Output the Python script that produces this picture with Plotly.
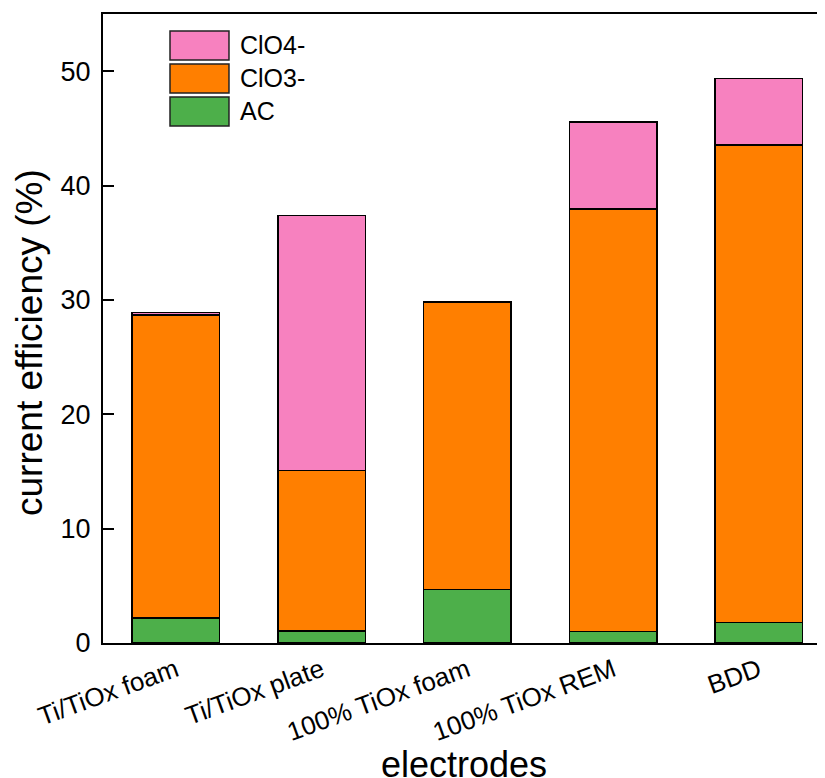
import plotly.graph_objects as go

electrodes = ["Ti/TiOx foam", "Ti/TiOx plate", "100% TiOx foam", "100% TiOx REM", "BDD"]
ac = [2.2, 1.05, 4.7, 1.0, 1.8]
clo3 = [26.5, 14.05, 25.1, 36.95, 41.75]
clo4 = [0.2, 22.3, 0.0, 7.6, 5.8]

series = [("AC", ac, "#4DAF4A"), ("ClO3-", clo3, "#FF7F00"), ("ClO4-", clo4, "#F781BF")]

FONT = "Arial, Liberation Sans, sans-serif"

fig = go.Figure()
for name, vals, col in series:
    fig.add_trace(go.Bar(
        x=list(range(len(electrodes))), y=vals, name=name, width=0.6,
        marker=dict(color=col, line=dict(color="black", width=1.5)),
        showlegend=False,
    ))

# hand-drawn legend with large swatches (top-left)
legend_rows = [("ClO4-", "#F781BF", 0.973), ("ClO3-", "#FF7F00", 0.9205), ("AC", "#4DAF4A", 0.868)]
for label, col, ytop in legend_rows:
    fig.add_shape(type="rect", xref="paper", yref="paper",
                  x0=0.0928, x1=0.1745, y0=ytop - 0.046, y1=ytop,
                  fillcolor=col, line=dict(color="#222", width=1.5))
    fig.add_annotation(x=0.187, y=ytop - 0.023, xref="paper", yref="paper",
                       text=label, showarrow=False, xanchor="left", yanchor="middle",
                       font=dict(family=FONT, size=25, color="black"))

# axis titles
fig.add_annotation(x=0, y=0, xref="paper", yref="paper", xshift=-74, yshift=300,
                   text="current efficiency (%)", textangle=-90, showarrow=False,
                   xanchor="center", yanchor="middle",
                   font=dict(family=FONT, size=37, color="black"))
fig.add_annotation(x=0.5, y=0, xref="paper", yref="paper", yshift=-99,
                   text="electrodes", showarrow=False, xanchor="center", yanchor="top",
                   font=dict(family=FONT, size=36, color="black"))

fig.update_xaxes(
    range=[-0.5, 4.454], tickmode="array", tickvals=list(range(len(electrodes))),
    ticktext=electrodes, tickangle=-20, ticks="",
    showline=True, linecolor="black", linewidth=2, mirror=True,
    showgrid=False, zeroline=False,
    tickfont=dict(family=FONT, size=26, color="black"),
)
fig.update_yaxes(
    range=[0, 55], tickvals=[0, 10, 20, 30, 40, 50], ticks="inside", ticklen=11,
    tickwidth=1.5, tickcolor="black", showline=True, linecolor="black", linewidth=2,
    showgrid=False, zeroline=False, ticklabelstandoff=5,
    tickfont=dict(family=FONT, size=27, color="black"),
)
fig.update_layout(
    barmode="stack", width=817, height=770,
    margin=dict(l=95, r=0, t=6, b=135, autoexpand=False),
    plot_bgcolor="white", paper_bgcolor="white",
)
fig.write_html("out.html")
